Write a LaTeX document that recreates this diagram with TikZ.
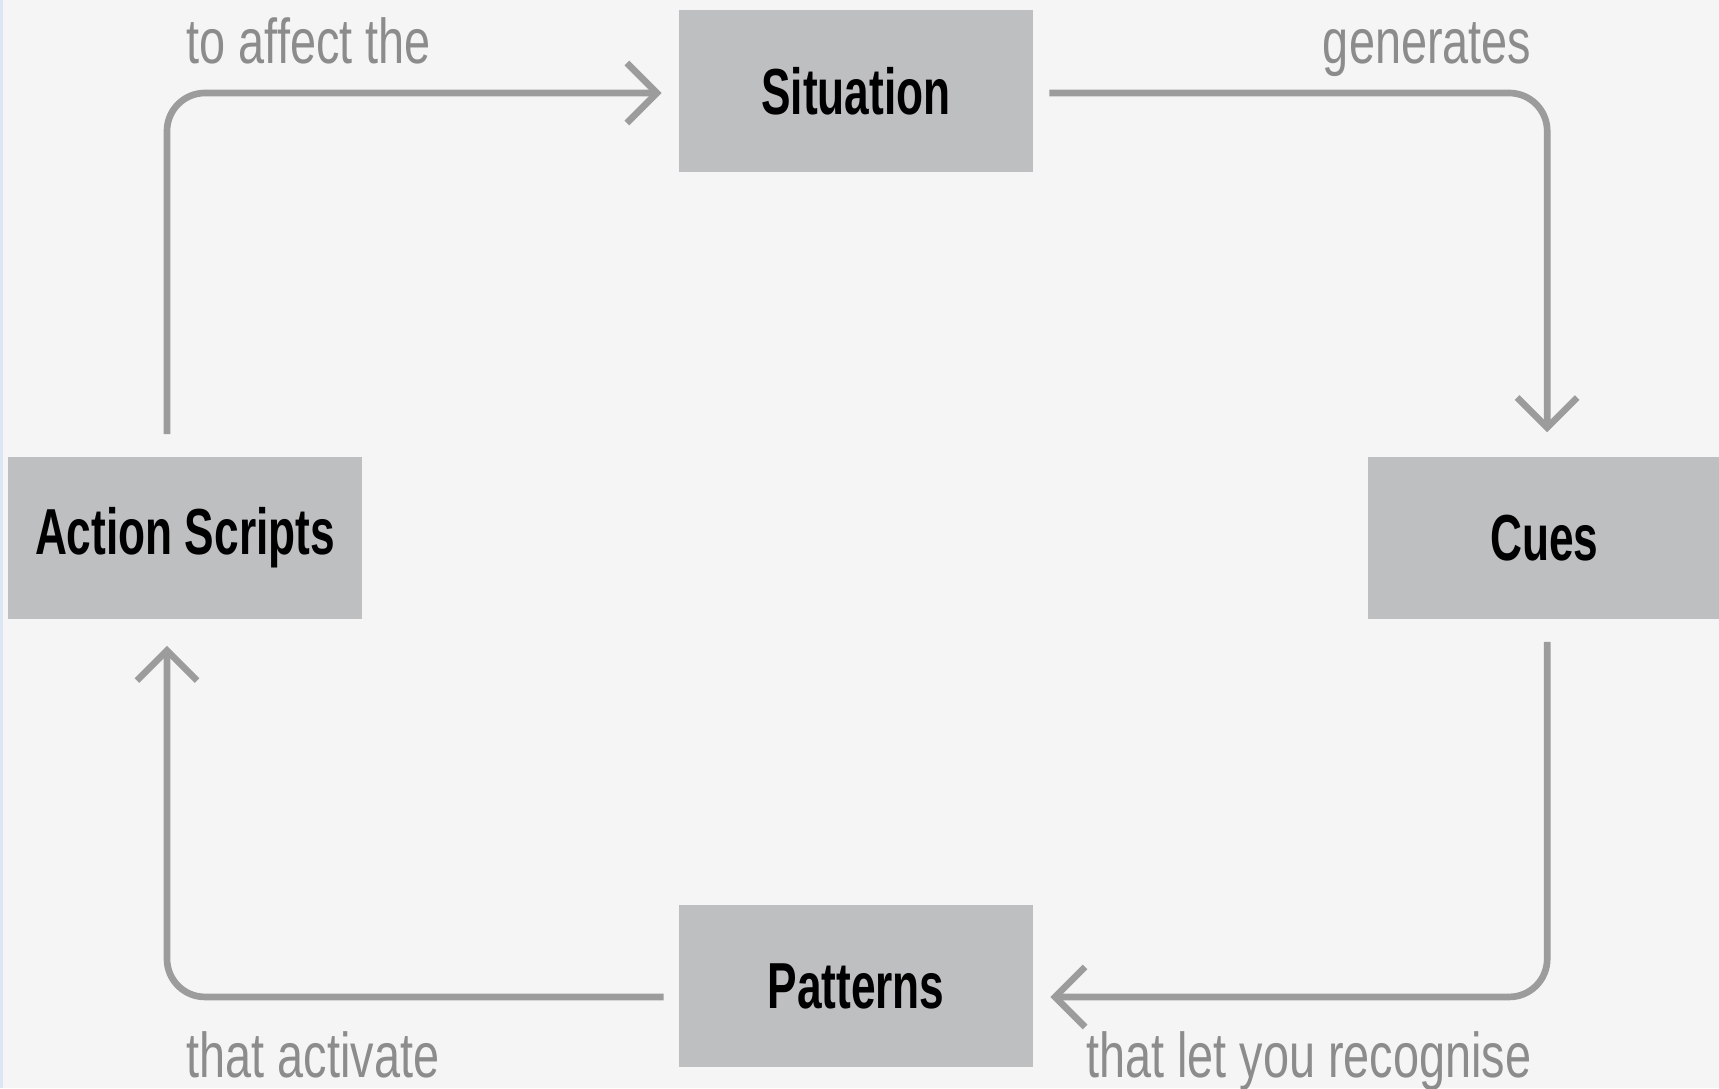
\documentclass[tikz,border=0pt]{standalone}
\usepackage{fontspec}
\setmainfont{Liberation Sans}[FakeStretch=0.68]
\newfontfamily\notefont{Liberation Sans}[FakeStretch=0.74]
\usetikzlibrary{arrows.meta,positioning}
\definecolor{Paper}{HTML}{F5F5F5}
\definecolor{BoxGray}{HTML}{BEBFC1}
\definecolor{LineGray}{HTML}{9C9C9C}
\definecolor{TextGray}{HTML}{8C8C8C}
\definecolor{EdgeBlue}{HTML}{DDE6F4}

\begin{document}
\begin{tikzpicture}[x=0.01cm, y=-0.01cm,
  stage/.style={fill=BoxGray, minimum width=3.53cm, minimum height=1.62cm, font=\bfseries\fontsize{18.5}{22}\selectfont, text=black},
  flow/.style={draw=LineGray, line width=1.9pt, rounded corners=0.38cm, -{Straight Barb[length=0.3cm,width=0.6cm]}},
  note/.style={font=\notefont\fontsize{18}{21}\selectfont, text=TextGray, inner sep=0pt}]
  \fill[Paper] (0,0) rectangle (1719,1088);
  \fill[EdgeBlue] (0,0) rectangle (3,1088);
  \useasboundingbox (0,0) rectangle (1719,1088);
  % the four stages
  \node[stage] (act) at (185,538) {Action Scripts};
  \node[stage, right=10.04cm of act] (cues) {Cues};
  \node[stage] (sit) at (856,91) {Situation};
  \node[stage, below=7.31cm of sit] (pat) {Patterns};
  % the loop
  \draw[flow] ([xshift=-0.18cm,yshift=0.22cm]act.north) |- ([xshift=-0.17cm,yshift=-0.02cm]sit.west);
  \draw[flow] ([xshift=0.16cm,yshift=-0.02cm]sit.east) -| ([xshift=0.03cm,yshift=0.24cm]cues.north);
  \draw[flow] ([xshift=0.03cm,yshift=-0.22cm]cues.south) |- ([xshift=0.17cm,yshift=-0.11cm]pat.east);
  \draw[flow] ([xshift=-0.15cm,yshift=-0.11cm]pat.west) -| ([xshift=-0.18cm,yshift=-0.26cm]act.south);
  % labels on the loop
  \node[note, anchor=base west] (affect) at (186,64) {to affect the};
  \node[note, anchor=base east] (gen) at (1532,64) {generates};
  \node[note, anchor=base west] (activate) at (186,1077) {that activate};
  \node[note, anchor=base east] (recog) at (1532,1077) {that let you recognise};
\end{tikzpicture}
\end{document}
